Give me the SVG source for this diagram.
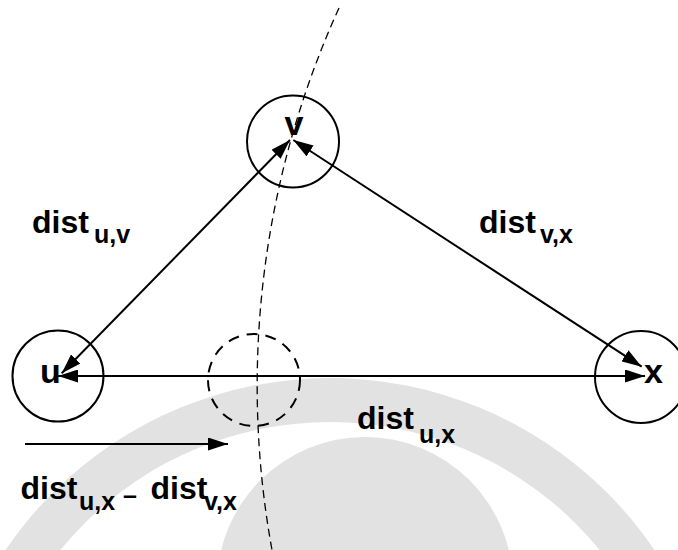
<svg xmlns="http://www.w3.org/2000/svg" width="678" height="550" viewBox="0 0 678 550">
  <style>
    .node { fill: none; stroke: #000; stroke-width: 2; }
    .ghost { fill: none; stroke: #000; stroke-width: 2; stroke-dasharray: 11 8; }
    .edge { fill: none; stroke: #000; stroke-width: 2; }
    .curve { fill: none; stroke: #000; stroke-width: 1.3; stroke-dasharray: 8 5; }
    .lbl { font-family: "Liberation Sans", Arial, sans-serif; font-weight: bold; fill: #000; }
    .nl { font-size: 34px; }
    .main { font-size: 32px; }
    .sub { font-size: 25px; }
    .wm { fill: #e2e2e2; stroke: none; }
  </style>
  <defs>
    <marker id="ah" markerUnits="userSpaceOnUse" markerWidth="20" markerHeight="13" refX="20" refY="6.5" orient="auto-start-reverse" viewBox="0 0 20 13">
      <path d="M0,0 L20,6.5 L0,13 z" fill="#000"/>
    </marker>
  </defs>
  <rect width="678" height="550" fill="#fff"/>

  <!-- faint watermark -->
  <g id="watermark">
    <path class="wm" fill-rule="evenodd" d="M -62 770 A 392 392 0 1 1 722 770 A 392 392 0 1 1 -62 770 Z M -18 770 A 348 348 0 1 0 678 770 A 348 348 0 1 0 -18 770 Z"/>
    <circle class="wm" cx="365" cy="585" r="148"/>
  </g>

  <g id="connectors">
    <path class="curve" d="M 339 8 A 914 914 0 0 0 272 550"/>
    <line class="edge" x1="61.7" y1="373.3" x2="290" y2="140" marker-start="url(#ah)" marker-end="url(#ah)"/>
    <line class="edge" x1="293.3" y1="140" x2="641.7" y2="366.7" marker-start="url(#ah)" marker-end="url(#ah)"/>
    <line class="edge" x1="58" y1="376" x2="645" y2="376" marker-start="url(#ah)" marker-end="url(#ah)"/>
    <line class="edge" x1="25" y1="444" x2="228" y2="444" marker-end="url(#ah)"/>
  </g>

  <g id="node-v">
    <circle class="node" cx="293" cy="141.5" r="46"/>
    <text class="lbl nl" x="294" y="135" text-anchor="middle">v</text>
  </g>
  <g id="node-u">
    <circle class="node" cx="58" cy="376" r="45.5"/>
    <text class="lbl nl" x="40" y="383">u</text>
  </g>
  <g id="node-x">
    <circle class="node" cx="641" cy="377" r="46"/>
    <text class="lbl nl" x="644" y="383">x</text>
  </g>
  <g id="node-ghost">
    <circle class="ghost" cx="254" cy="380" r="46"/>
  </g>

  <g id="label-dist-uv">
    <text class="lbl main" x="32" y="233">dist</text>
    <text class="lbl sub" x="94" y="243">u,v</text>
  </g>
  <g id="label-dist-vx">
    <text class="lbl main" x="479" y="233">dist</text>
    <text class="lbl sub" x="540" y="243">v,x</text>
  </g>
  <g id="label-dist-ux">
    <text class="lbl main" x="357" y="429">dist</text>
    <text class="lbl sub" x="419" y="443">u,x</text>
  </g>
  <g id="label-diff">
    <text class="lbl main" x="20.5" y="498.5">dist</text>
    <text class="lbl sub" x="79" y="510">u,x</text>
    <text class="lbl sub" x="123" y="504">–</text>
    <text class="lbl main" x="150.5" y="498.5">dist</text>
    <text class="lbl sub" x="204" y="510">v,x</text>
  </g>
</svg>
